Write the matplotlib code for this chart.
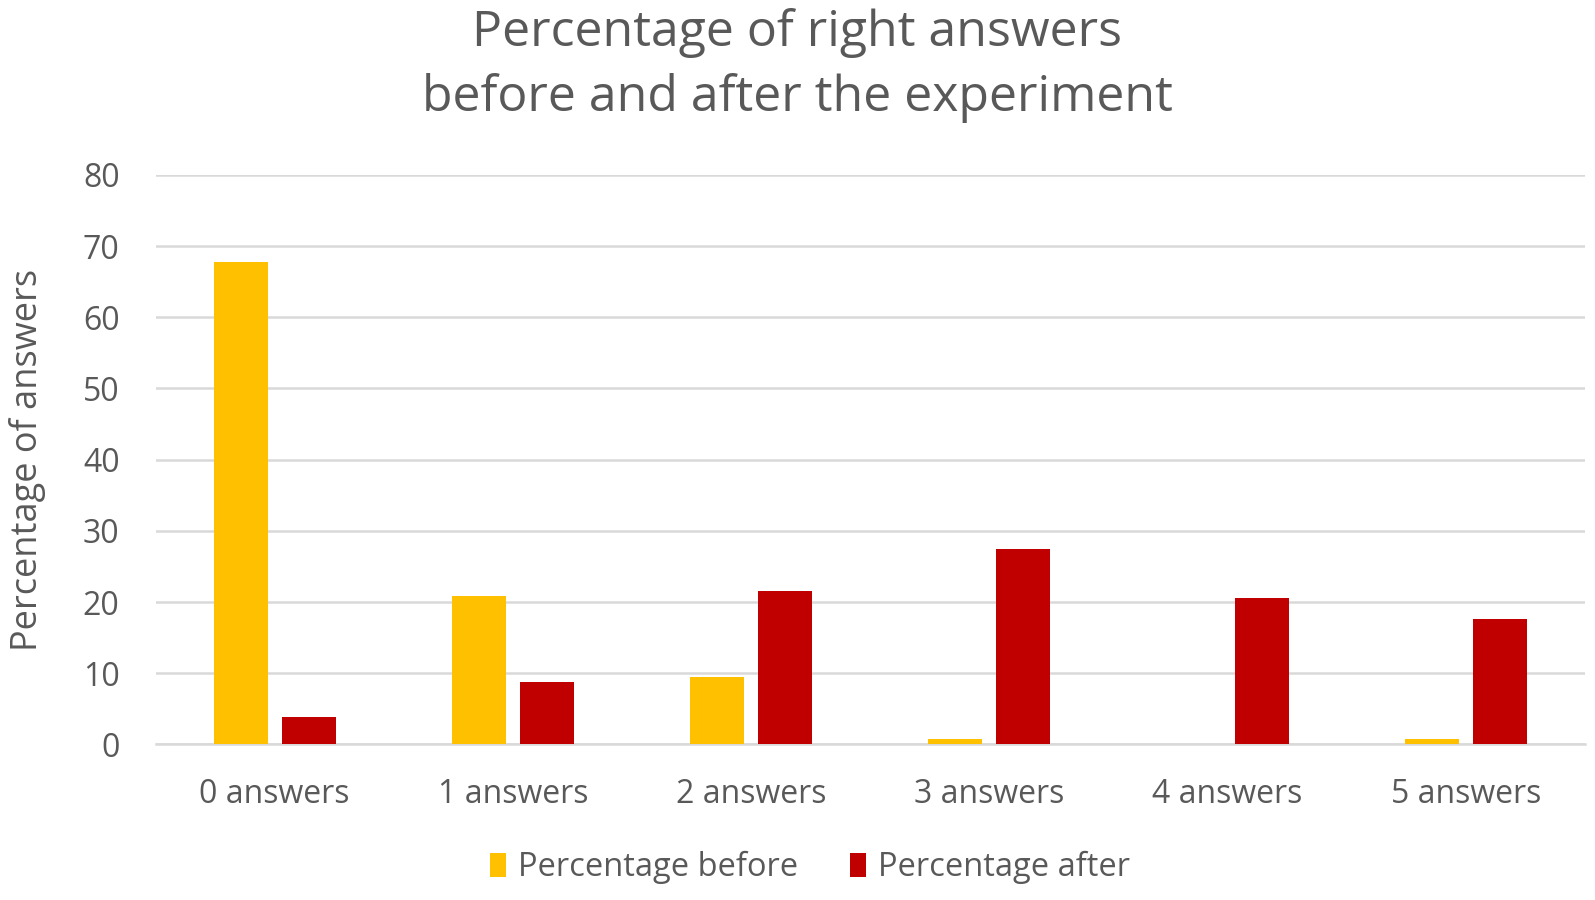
import matplotlib
matplotlib.use("Agg")
import matplotlib.pyplot as plt
import numpy as np

categories = ["0 answers", "1 answers", "2 answers", "3 answers", "4 answers", "5 answers"]
before = [67.8, 20.8, 9.4, 0.7, 0.0, 0.7]
after = [3.8, 8.7, 21.5, 27.5, 20.6, 17.6]
series_names = ["Percentage before", "Percentage after"]
yticks = [0, 10, 20, 30, 40, 50, 60, 70, 80]

plt.rcParams['font.family'] = ['Open Sans', 'DejaVu Sans']
txt = '#595959'

W, H = 1568, 885
fig = plt.figure(figsize=(15.95, 9.0), dpi=100)
ax = fig.add_axes([153/W, 1 - 732/H, (1558-153)/W, (732-172)/H])

x = np.arange(len(categories))
w = 0.227
off = 0.143
ax.bar(x - off, before, w, color='#FFC000', label=series_names[0], zorder=3)
ax.bar(x + off, after, w, color='#C00000', label=series_names[1], zorder=3)

ax.set_xlim(-0.5, len(categories) - 0.5)
ax.set_ylim(0, 80)
ax.set_yticks(yticks)
ax.set_yticklabels([str(v) for v in yticks])
ax.set_xticks(x)
ax.set_xticklabels(categories)
ax.grid(axis='y', color='#d9d9d9', linewidth=1.8, zorder=0)
ax.set_axisbelow(True)
for s in ['top', 'right', 'left']:
    ax.spines[s].set_visible(False)
ax.spines['bottom'].set_color('#d9d9d9')
ax.spines['bottom'].set_linewidth(1.8)
ax.tick_params(axis='both', length=0, labelsize=23, labelcolor=txt)
ax.tick_params(axis='x', pad=24)
ax.tick_params(axis='y', pad=26)

ax.set_ylabel("Percentage of answers", fontsize=26, color=txt)
ax.yaxis.set_label_coords((27 - 153) / (1558 - 153), 0.5)
ax.yaxis.label.set_va('center')

fig.text(0.5, 1 - 32/H, "Percentage of right answers",
         ha='center', va='center', fontsize=36, color=txt)
fig.text(0.5, 1 - 96/H, "before and after the experiment",
         ha='center', va='center', fontsize=36, color=txt)

handles, labels = ax.get_legend_handles_labels()
fig.legend(handles, labels, loc='center', bbox_to_anchor=(0.5 + 12/W, 1 - 853/H), ncol=2,
           frameon=False, fontsize=23.5, labelcolor=txt, handlelength=0.5, handleheight=0.75,
           handletextpad=0.35, columnspacing=1.6)

fig.savefig("out.png", dpi=100, facecolor='white')
